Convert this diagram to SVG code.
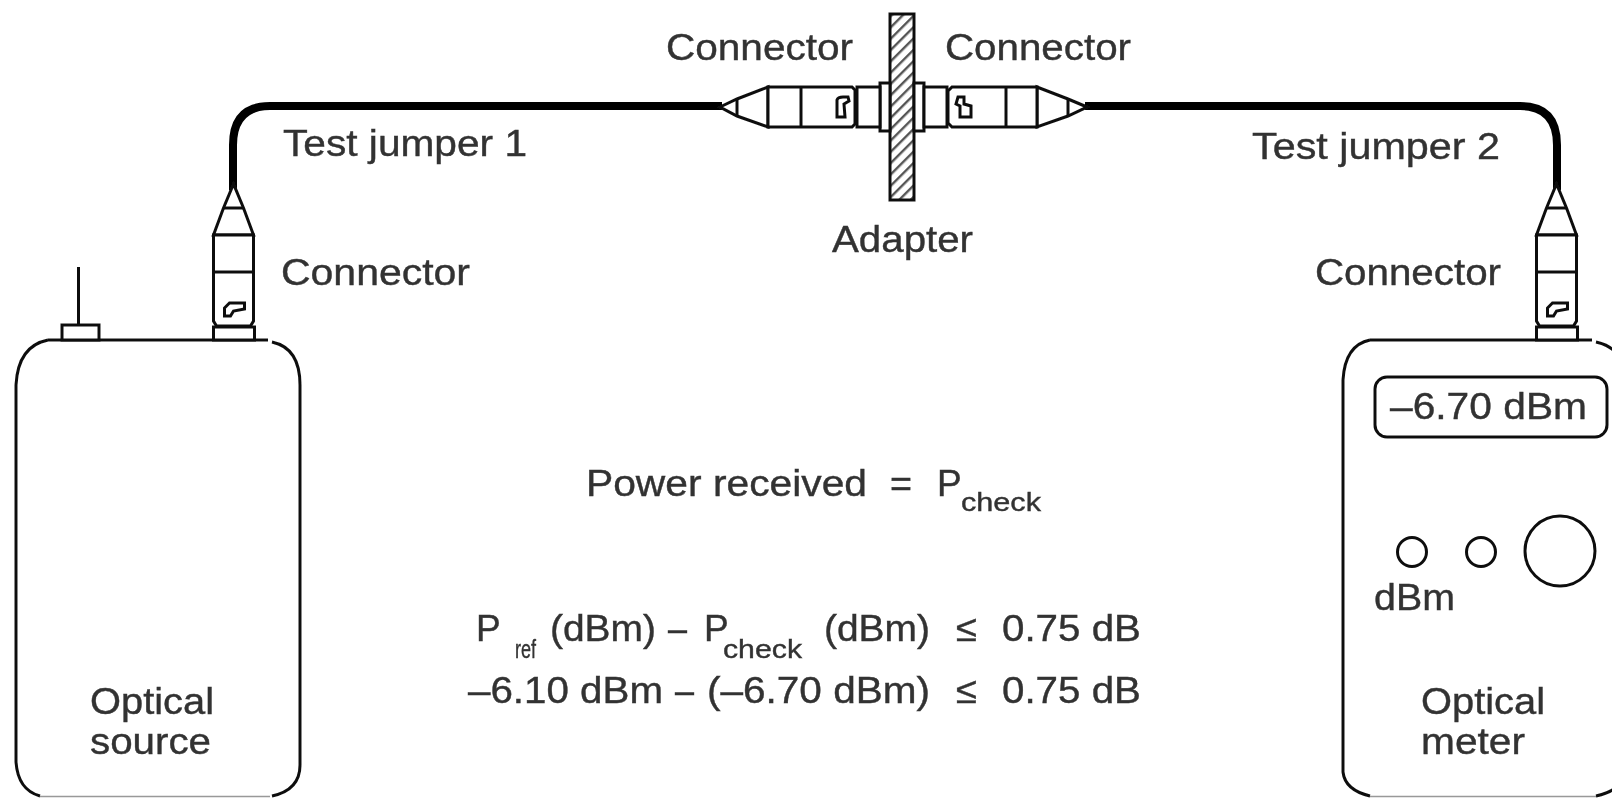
<svg xmlns="http://www.w3.org/2000/svg" width="1612" height="798" viewBox="0 0 1612 798">
<style>
.l{fill:none;stroke:#111;stroke-width:3}
.w{fill:#fff;stroke:#111;stroke-width:3}
.fiber{fill:none;stroke:#000;stroke-linecap:butt}
.faint{fill:none;stroke:#999;stroke-width:1.5}
text{font-family:"Liberation Sans",Arial,sans-serif;font-size:37px;fill:#333;stroke:#333;stroke-width:0.4}
.sub{font-size:26px}
</style>
<defs>
<pattern id="hatch" width="8" height="8" patternUnits="userSpaceOnUse" patternTransform="rotate(-45)">
<rect width="8" height="8" fill="#fff"/><rect width="8" height="2.4" fill="#555"/>
</pattern>
<filter id="soft" x="-5%" y="-5%" width="110%" height="110%"><feGaussianBlur stdDeviation="0.7"/></filter>
<g id="conn">
<path class="w" d="M0,-3 L-10,21 L-20,48 H20 L10,21 Z"/>
<path class="l" d="M-10,21 H10"/>
<path class="w" d="M-20,48 H20 V134 L17,139 H-17 L-20,134 Z"/>
<path class="l" d="M-20,85 H20"/>
<path class="l" d="M-9,121 L-4,116 H11 V122 L0,124 L-3,129 H-9 Z"/>
<rect class="w" x="-20" y="140" width="41" height="13"/>
</g>
</defs>
<rect width="1612" height="798" fill="#fff"/>
<g filter="url(#soft)">
<g id="connectors">
<path class="fiber" stroke-width="8" d="M233,190 V145 Q233,106 270,106 H722"/>
<path class="fiber" stroke-width="8" d="M1085,106 H1520 Q1557,106 1557,145 V190"/>
</g>
<g id="source">
<path class="l" d="M48,340 H268 M272,342 Q300,348 300,385 V765 Q300,790 272,796 M16,385 Q18,346 48,340 M16,385 V762 Q18,790 40,796"/>
<path class="faint" d="M40,796.5 H270"/>
<path class="l" d="M78.500,267 V325"/>
<rect class="w" x="62" y="325" width="37" height="15"/>
<text x="90" y="714" textLength="124" lengthAdjust="spacingAndGlyphs">Optical</text>
<text x="90" y="754" textLength="121" lengthAdjust="spacingAndGlyphs">source</text>
</g>
<g id="left-connector"><use href="#conn" x="233.500" y="187"/></g>
<g id="meter">
<path class="l" d="M1370,340 H1592 M1596,342 Q1625,348 1630,385 V765 Q1625,790 1596,796 M1343,380 Q1345,345 1370,340 M1343,380 V772 Q1345,790 1370,796"/>
<path class="faint" d="M1370,796.500 H1596"/>
<rect class="l" x="1375" y="377" width="232" height="60" rx="12" ry="12"/>
<text x="1390" y="419" textLength="197" lengthAdjust="spacingAndGlyphs">–6.70 dBm</text>
<circle class="l" cx="1412" cy="552" r="14.500"/>
<circle class="l" cx="1481" cy="552" r="14.500"/>
<circle class="l" cx="1560" cy="551" r="35"/>
<text x="1374" y="610" textLength="81" lengthAdjust="spacingAndGlyphs">dBm</text>
<text x="1421" y="714" textLength="124" lengthAdjust="spacingAndGlyphs">Optical</text>
<text x="1421" y="754" textLength="104" lengthAdjust="spacingAndGlyphs">meter</text>
</g>
<g id="right-connector"><use href="#conn" x="1556.500" y="187"/></g>
<g id="adapter">
<rect x="890" y="14" width="24" height="186" fill="url(#hatch)" stroke="#111" stroke-width="3"/>
<path class="w" d="M880,83 H890 V131 H880 Z M914,83 H924 V131 H914 Z"/>
<rect class="w" x="857" y="87" width="23" height="40"/>
<rect class="w" x="924" y="87" width="23" height="40"/>
</g>
<g id="mid-left-connector">
<path class="w" d="M720,107 L737,99 L768,87 V127 L737,116 Z"/>
<path class="l" d="M737,99 V116"/>
<path class="w" d="M768,87 H852 L855,90 V124 L852,127 H768 Z"/>
<path class="l" d="M801,87 V127"/>
<path class="l" d="M837,117 V100 Q838,97 843,97 H848 L849,101 L844,104 L845,117 Z"/>
</g>
<g id="mid-right-connector">
<path class="w" d="M1087,107 L1068,99 L1037,87 V127 L1068,116 Z"/>
<path class="l" d="M1068,99 V116"/>
<path class="w" d="M1037,87 H952 L948,91 V123 L952,127 H1037 Z"/>
<path class="l" d="M1006,87 V127"/>
<path class="l" d="M958,97 H964 V104 L971,106 V117 H960 V106 L956,104 Z"/>
</g>
<g id="labels">
<text x="666" y="60" textLength="187" lengthAdjust="spacingAndGlyphs">Connector</text>
<text x="945" y="60" textLength="186" lengthAdjust="spacingAndGlyphs">Connector</text>
<text x="283" y="156" textLength="244" lengthAdjust="spacingAndGlyphs">Test jumper 1</text>
<text x="1252" y="159" textLength="248" lengthAdjust="spacingAndGlyphs">Test jumper 2</text>
<text x="281" y="285" textLength="189" lengthAdjust="spacingAndGlyphs">Connector</text>
<text x="1315" y="285" textLength="186" lengthAdjust="spacingAndGlyphs">Connector</text>
<text x="832" y="252" textLength="141" lengthAdjust="spacingAndGlyphs">Adapter</text>
<text x="586" y="496" textLength="281" lengthAdjust="spacingAndGlyphs">Power received</text>
<text x="890" y="496" textLength="22" lengthAdjust="spacingAndGlyphs">=</text>
<text x="937" y="496">P</text>
<text class="sub" x="961" y="511" textLength="80" lengthAdjust="spacingAndGlyphs">check</text>
<text x="476" y="641">P</text>
<text class="sub" x="515" y="658" textLength="21" lengthAdjust="spacingAndGlyphs">ref</text>
<text x="550" y="641" textLength="106" lengthAdjust="spacingAndGlyphs">(dBm)</text>
<text x="668" y="641" textLength="19" lengthAdjust="spacingAndGlyphs">–</text>
<text x="704" y="641">P</text>
<text class="sub" x="723" y="658" textLength="79" lengthAdjust="spacingAndGlyphs">check</text>
<text x="824" y="641" textLength="106" lengthAdjust="spacingAndGlyphs">(dBm)</text>
<text x="956" y="641" textLength="21" lengthAdjust="spacingAndGlyphs">≤</text>
<text x="1002" y="641" textLength="139" lengthAdjust="spacingAndGlyphs">0.75 dB</text>
<text x="468" y="703" textLength="195" lengthAdjust="spacingAndGlyphs">–6.10 dBm</text>
<text x="675" y="703" textLength="19" lengthAdjust="spacingAndGlyphs">–</text>
<text x="707" y="703" textLength="223" lengthAdjust="spacingAndGlyphs">(–6.70 dBm)</text>
<text x="956" y="703" textLength="21" lengthAdjust="spacingAndGlyphs">≤</text>
<text x="1002" y="703" textLength="139" lengthAdjust="spacingAndGlyphs">0.75 dB</text>
</g>
</g>
</svg>
